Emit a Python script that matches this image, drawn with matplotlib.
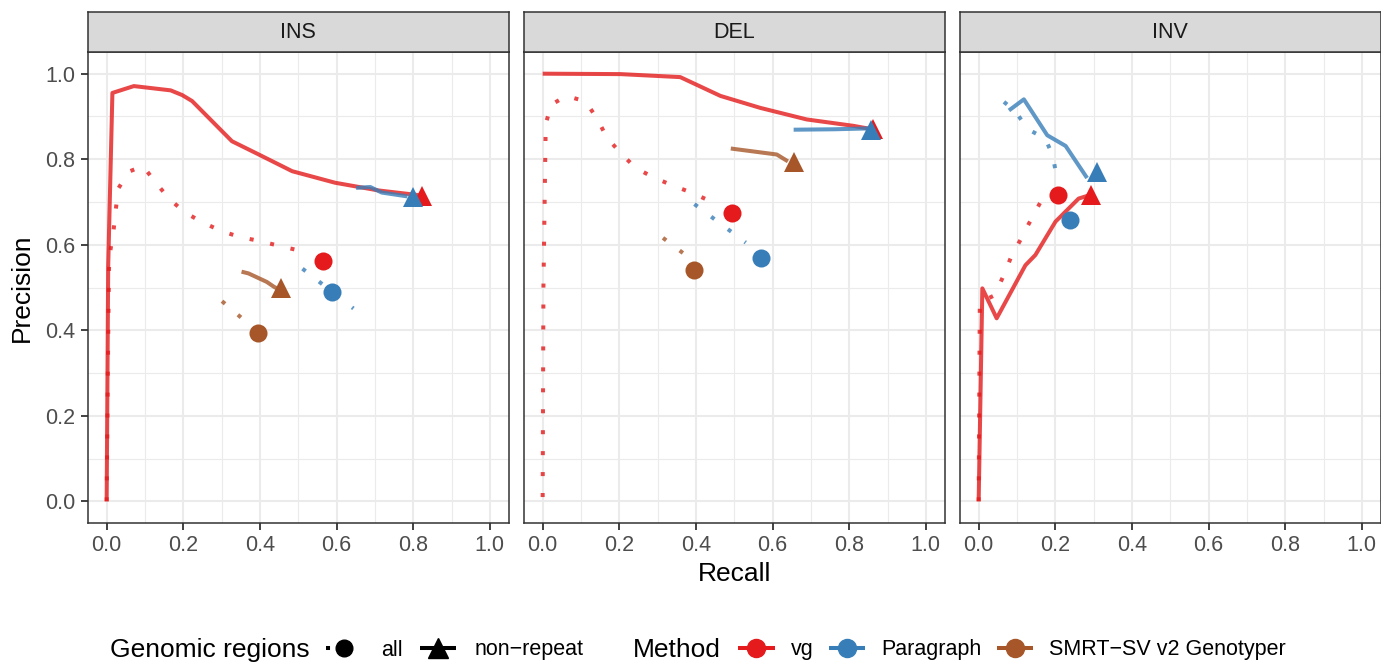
import matplotlib
matplotlib.use("Agg")
import matplotlib.pyplot as plt
from matplotlib.lines import Line2D
import numpy as np

plt.rcParams['font.family'] = ['Liberation Sans', 'DejaVu Sans']

panels = ["INS", "DEL", "INV"]
methods = ["vg", "Paragraph", "SMRT\u2212SV v2 Genotyper"]
colors = {"vg": "#E41A1C", "Paragraph": "#377EB8", "SMRT\u2212SV v2 Genotyper": "#A65628"}
region_labels = ["all", "non\u2212repeat"]

# curves: (recall, precision) per panel / method / region
ins_vg_all_r = [0, 0.003, 0.006, 0.0096, 0.018, 0.024, 0.030, 0.058, 0.095, 0.128, 0.164, 0.203, 0.249, 0.299, 0.348, 0.403, 0.456, 0.51]
ins_vg_all_p = [0, 0.30, 0.544, 0.586, 0.634, 0.683, 0.731, 0.771, 0.784, 0.745, 0.707, 0.676, 0.653, 0.632, 0.618, 0.608, 0.596, 0.585]
ins_vg_nr_r = [0, 0.004, 0.015, 0.071, 0.167, 0.197, 0.223, 0.327, 0.397, 0.484, 0.596, 0.709, 0.814]
ins_vg_nr_p = [0, 0.55, 0.955, 0.971, 0.961, 0.950, 0.936, 0.842, 0.811, 0.772, 0.745, 0.727, 0.716]
ins_par_all_r = [0.511, 0.644]
ins_par_all_p = [0.544, 0.451]
ins_par_nr_r = [0.651, 0.688, 0.718, 0.785]
ins_par_nr_p = [0.733, 0.735, 0.722, 0.713]
ins_smrt_all_r = [0.301, 0.37]
ins_smrt_all_p = [0.468, 0.415]
ins_smrt_nr_r = [0.352, 0.370, 0.418, 0.436, 0.450]
ins_smrt_nr_p = [0.537, 0.533, 0.513, 0.502, 0.495]

del_vg_all_r = [0, 0.002, 0.008, 0.023, 0.0625, 0.112, 0.142, 0.168, 0.203, 0.242, 0.288, 0.338, 0.388, 0.4375]
del_vg_all_p = [0.01, 0.50, 0.883, 0.928, 0.948, 0.935, 0.895, 0.850, 0.815, 0.780, 0.758, 0.739, 0.722, 0.702]
del_vg_nr_r = [0, 0.203, 0.359, 0.464, 0.568, 0.689, 0.811, 0.86]
del_vg_nr_p = [1.0, 0.999, 0.992, 0.948, 0.920, 0.893, 0.878, 0.870]
del_par_all_r = [0.396, 0.53]
del_par_all_p = [0.695, 0.605]
del_par_nr_r = [0.655, 0.76, 0.85]
del_par_nr_p = [0.869, 0.870, 0.872]
del_smrt_all_r = [0.314, 0.37]
del_smrt_all_p = [0.616, 0.578]
del_smrt_nr_r = [0.491, 0.611, 0.64]
del_smrt_nr_p = [0.825, 0.811, 0.795]

inv_vg_all_r = [0, 0.003, 0.042, 0.064, 0.085, 0.110, 0.135, 0.161, 0.18]
inv_vg_all_p = [0, 0.465, 0.482, 0.526, 0.572, 0.613, 0.656, 0.699, 0.712]
inv_vg_nr_r = [0, 0.0096, 0.047, 0.122, 0.148, 0.2005, 0.261, 0.29]
inv_vg_nr_p = [0, 0.498, 0.428, 0.552, 0.576, 0.654, 0.708, 0.716]
inv_par_all_r = [0.066, 0.096, 0.127, 0.174, 0.194, 0.203, 0.205]
inv_par_all_p = [0.934, 0.912, 0.871, 0.848, 0.807, 0.760, 0.74]
inv_par_nr_r = [0.079, 0.118, 0.179, 0.227, 0.283]
inv_par_nr_p = [0.914, 0.940, 0.856, 0.831, 0.756]

# default-threshold points: (recall, precision)
ins_vg_pts = [(0.564, 0.561), (0.822, 0.713)]
ins_par_pts = [(0.588, 0.490), (0.799, 0.712)]
ins_smrt_pts = [(0.394, 0.394), (0.456, 0.498)]
del_vg_pts = [(0.494, 0.674), (0.863, 0.871)]
del_par_pts = [(0.570, 0.568), (0.856, 0.869)]
del_smrt_pts = [(0.396, 0.542), (0.655, 0.794)]
inv_vg_pts = [(0.2075, 0.716), (0.292, 0.716)]
inv_par_pts = [(0.238, 0.659), (0.309, 0.770)]

curves = {
    "INS": {"vg": [(ins_vg_all_r, ins_vg_all_p), (ins_vg_nr_r, ins_vg_nr_p)],
            "Paragraph": [(ins_par_all_r, ins_par_all_p), (ins_par_nr_r, ins_par_nr_p)],
            "SMRT\u2212SV v2 Genotyper": [(ins_smrt_all_r, ins_smrt_all_p), (ins_smrt_nr_r, ins_smrt_nr_p)]},
    "DEL": {"vg": [(del_vg_all_r, del_vg_all_p), (del_vg_nr_r, del_vg_nr_p)],
            "Paragraph": [(del_par_all_r, del_par_all_p), (del_par_nr_r, del_par_nr_p)],
            "SMRT\u2212SV v2 Genotyper": [(del_smrt_all_r, del_smrt_all_p), (del_smrt_nr_r, del_smrt_nr_p)]},
    "INV": {"vg": [(inv_vg_all_r, inv_vg_all_p), (inv_vg_nr_r, inv_vg_nr_p)],
            "Paragraph": [(inv_par_all_r, inv_par_all_p), (inv_par_nr_r, inv_par_nr_p)]},
}
points = {
    "INS": {"vg": ins_vg_pts, "Paragraph": ins_par_pts, "SMRT\u2212SV v2 Genotyper": ins_smrt_pts},
    "DEL": {"vg": del_vg_pts, "Paragraph": del_par_pts, "SMRT\u2212SV v2 Genotyper": del_smrt_pts},
    "INV": {"vg": inv_vg_pts, "Paragraph": inv_par_pts},
}

DOT = (0, (1, 4.2))
LW = 2.9
markers = ["o", "^"]
msizes = [13, 15]
styles = [DOT, "-"]

W, H = 1381, 666
fig = plt.figure(figsize=(W / 100, H / 100), dpi=100)
lefts = [87.5, 523.5, 959.5]
pw = 421.5
top, bottom = 52.3, 522.7
strip_top = 11.7

for i, name in enumerate(panels):
    ax = fig.add_axes([lefts[i] / W, 1 - bottom / H, pw / W, (bottom - top) / H])
    ax.set_xlim(-0.05, 1.05)
    ax.set_ylim(-0.05, 1.05)
    ax.set_xticks(np.arange(0, 1.01, 0.2))
    ax.set_yticks(np.arange(0, 1.01, 0.2))
    ax.set_xticks(np.arange(0.1, 1.0, 0.2), minor=True)
    ax.set_yticks(np.arange(0.1, 1.0, 0.2), minor=True)
    ax.set_xticklabels(["%.1f" % v for v in np.arange(0, 1.01, 0.2)])
    ax.grid(which="major", color="#EBEBEB", lw=1.5)
    ax.grid(which="minor", color="#EBEBEB", lw=0.8)
    ax.set_axisbelow(True)
    for s in ax.spines.values():
        s.set_color("#333333")
        s.set_linewidth(1.1)
    ax.tick_params(which="major", length=5, width=1.3, color="#333333",
                   labelsize=15.5, labelcolor="#4D4D4D", pad=4)
    ax.tick_params(which="minor", length=0)
    if i == 0:
        ax.set_yticklabels(["%.1f" % v for v in np.arange(0, 1.01, 0.2)])
        ax.set_ylabel("Precision", fontsize=19, labelpad=8)
    else:
        ax.tick_params(axis="y", which="both", left=False, labelleft=False)
    if i == 1:
        ax.set_xlabel("Recall", fontsize=19, labelpad=4)

    for m in methods:
        if m not in curves[name]:
            continue
        for k in range(2):
            r, p = curves[name][m][k]
            ax.plot(r, p, color=colors[m], lw=LW, alpha=0.8, linestyle=styles[k],
                    dash_capstyle="butt", solid_capstyle="butt", solid_joinstyle="round")
    for m in methods:
        if m not in points[name]:
            continue
        for k in range(2):
            r, p = points[name][m][k]
            ax.plot([r], [p], marker=markers[k], ms=msizes[k], color=colors[m],
                    markeredgewidth=0, linestyle="none")

    # strip
    sax = fig.add_axes([lefts[i] / W, 1 - top / H, pw / W, (top - strip_top) / H])
    sax.set_facecolor("#D9D9D9")
    sax.set_xticks([])
    sax.set_yticks([])
    for s in sax.spines.values():
        s.set_color("#333333")
        s.set_linewidth(1.1)
    sax.text(0.5, 0.5, name, ha="center", va="center", fontsize=15.5, color="#1A1A1A",
             transform=sax.transAxes)

# legends
ly = 1 - 650 / H
fig.text(110 / W, ly, "Genomic regions", fontsize=19, va="center", ha="left")
reg_handles = [Line2D([0], [0], color="black", lw=LW, linestyle=styles[k], marker=markers[k],
                      ms=msizes[k] - 1, dash_capstyle="butt", solid_capstyle="butt")
               for k in range(2)]
leg1 = fig.legend(reg_handles, region_labels, ncol=2, loc="center left",
                  bbox_to_anchor=(326 / W, ly), frameon=False, fontsize=15.5,
                  handlelength=1.7, handletextpad=0.85, columnspacing=0.8,
                  borderpad=0, borderaxespad=0)
fig.text(633 / W, ly, "Method", fontsize=19, va="center", ha="left")
met_handles = [Line2D([0], [0], color=colors[m], lw=LW, linestyle="-", marker="o", ms=13,
                      solid_capstyle="butt") for m in methods]
leg2 = fig.legend(met_handles, methods, ncol=3, loc="center left",
                  bbox_to_anchor=(738 / W, ly), frameon=False, fontsize=15.5,
                  handlelength=1.7, handletextpad=0.75, columnspacing=0.7,
                  borderpad=0, borderaxespad=0)

fig.savefig("out.png", dpi=100)
